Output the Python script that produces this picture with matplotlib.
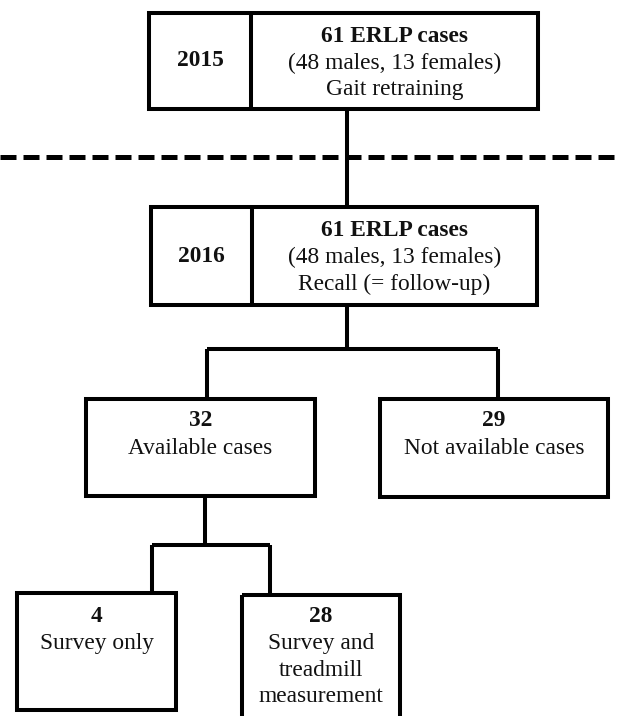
import matplotlib
matplotlib.use("Agg")
import matplotlib.pyplot as plt
from matplotlib.patches import Rectangle

# ---- content ----
years = ["2015", "2016"]
top_counts = ["61 ERLP cases", "61 ERLP cases"]
top_details = [["(48 males, 13 females)", "Gait retraining"],
               ["(48 males, 13 females)", "Recall (= follow-up)"]]
split1_counts = ["32", "29"]
split1_labels = [["Available cases"], ["Not available cases"]]
split2_counts = ["4", "28"]
split2_labels = [["Survey only"], ["Survey and", "treadmill", "measurement"]]

# ---- layout (pixel coordinates, y downward) ----
W, H = 619, 716
fig = plt.figure(figsize=(W / 100, H / 100), dpi=100)
ax = fig.add_axes([0, 0, 1, 1])
ax.set_xlim(0, W)
ax.set_ylim(H, 0)
ax.axis("off")

LW = 2.9
FONT = "Liberation Serif"
FS = 16.8
LINE = 27

def box(x0, y0, x1, y1):
    ax.add_patch(Rectangle((x0, y0), x1 - x0, y1 - y0, fill=False,
                           edgecolor="black", lw=LW, joinstyle="miter"))

def line(xs, ys, **kw):
    ax.plot(xs, ys, color="black", lw=LW, solid_capstyle="butt",
            solid_joinstyle="miter", **kw)

def write(x, y, s, bold=False):
    ax.text(x, y, s, ha="center", va="center", fontsize=FS, family=FONT,
            fontweight="bold" if bold else "normal", color="#111111")

# top boxes with year cell
top_boxes = [(149, 13, 538, 109, 251), (151, 207, 537, 305, 252)]
for (x0, y0, x1, y1, xd), yr, cnt, det in zip(top_boxes, years, top_counts, top_details):
    box(x0, y0, x1, y1)
    line([xd, xd], [y0, y1])
    write((x0 + xd) / 2, (y0 + y1) / 2, yr, bold=True)
    cx = (xd + x1) / 2
    ytop = y0 + 23
    write(cx, ytop, cnt, bold=True)
    for i, s in enumerate(det):
        write(cx, ytop + (i + 1) * LINE, s)

# dashed separator
ax.plot([0, W], [157, 157], color="black", lw=3.6, dashes=(3.2, 1.4),
        solid_capstyle="butt", dash_capstyle="butt")

# connectors
line([347, 347], [109, 207])
line([347, 347], [305, 349])
line([207, 498], [349, 349])
line([207, 207], [349, 399])
line([498, 498], [349, 399])
line([205, 205], [496, 545])
line([152, 270], [545, 545])
line([152, 152], [545, 593])
line([270, 270], [545, 595])

# second level
mid_boxes = [(86, 399, 315, 496), (380, 399, 608, 497)]
for (x0, y0, x1, y1), cnt, lab in zip(mid_boxes, split1_counts, split1_labels):
    box(x0, y0, x1, y1)
    cx = (x0 + x1) / 2
    write(cx, 421, cnt, bold=True)
    for i, s in enumerate(lab):
        write(cx, 421 + (i + 1) * LINE, s)

# third level
low_boxes = [(17, 593, 176, 710), (242, 595, 400, 730)]
for (x0, y0, x1, y1), cnt, lab in zip(low_boxes, split2_counts, split2_labels):
    box(x0, y0, x1, y1)
    cx = (x0 + x1) / 2
    write(cx, 616, cnt, bold=True)
    for i, s in enumerate(lab):
        write(cx, 616 + (i + 1) * LINE, s)

fig.savefig("out.png", dpi=100, facecolor="white")
